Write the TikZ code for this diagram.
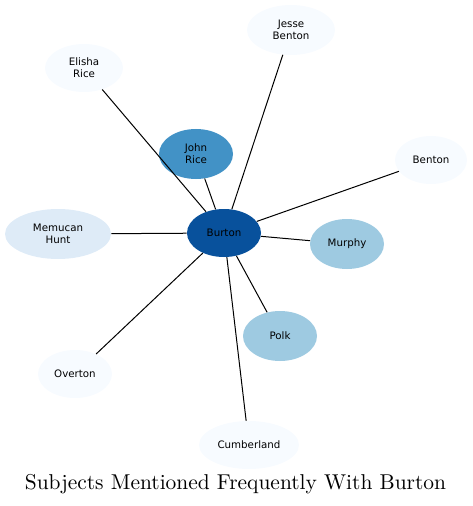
\documentclass[tikz,border=0pt]{standalone}
\usepackage{fontspec}
\newfontfamily\nodefont{DejaVu Sans}
\newfontfamily\titlefont{lmroman10-regular}[Extension=.otf]
\usetikzlibrary{shapes.geometric}
\definecolor{c0}{HTML}{08519C}
\definecolor{c1}{HTML}{4292C6}
\definecolor{c2}{HTML}{9ECAE1}
\definecolor{c3}{HTML}{DEEBF7}
\definecolor{c4}{HTML}{F7FBFF}
\begin{document}
\begin{tikzpicture}[x=0.75pt,y=-0.75pt,
  ent/.style={ellipse,draw=none,inner sep=0pt,align=center,
    font=\nodefont\fontsize{7.7}{8.8}\selectfont,minimum height=36pt},
  edge/.style={draw=black,line width=0.75pt}]
\useasboundingbox (0,0) rectangle (473,506);
\node[ent,fill=c0,minimum width=55.5pt,minimum height=36pt] (burton) at (224,233) {Burton};
\node[ent,fill=c1,minimum width=55.5pt,minimum height=37.5pt] (john) at (196,154) {John\\Rice};
\node[ent,fill=c4,minimum width=58.5pt] (elisha) at (84,68) {Elisha\\Rice};
\node[ent,fill=c4,minimum width=66pt,minimum height=37.5pt] (jesse) at (291,30) {Jesse\\Benton};
\node[ent,fill=c4,minimum width=54pt] (benton) at (431,160) {Benton};
\node[ent,fill=c3,minimum width=79.5pt,minimum height=37.5pt] (memucan) at (58,234) {Memucan\\Hunt};
\node[ent,fill=c2,minimum width=55.5pt,minimum height=37.5pt] (murphy) at (347,244) {Murphy};
\node[ent,fill=c2,minimum width=55.5pt,minimum height=37.5pt] (polk) at (280,336) {Polk};
\node[ent,fill=c4,minimum width=55.5pt] (overton) at (75,374) {Overton};
\node[ent,fill=c4,minimum width=75pt] (cumberland) at (249,445) {Cumberland};
\node[font=\titlefont\fontsize{16.1}{18}\selectfont] (title) at (235.5,484) {Subjects Mentioned Frequently With Burton};
\foreach \n in {john,elisha,jesse,benton,memucan,murphy,polk,overton,cumberland}
  \draw[edge] (burton) -- (\n);
\end{tikzpicture}
\end{document}
